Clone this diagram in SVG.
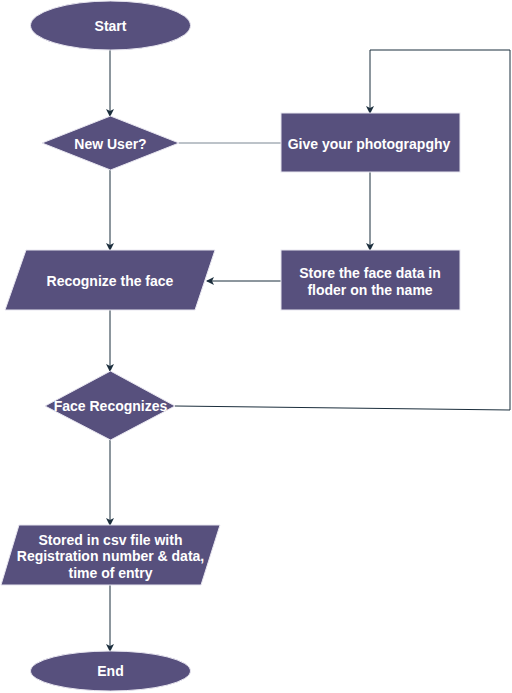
<svg xmlns="http://www.w3.org/2000/svg" width="512" height="693" viewBox="0 0 512 693">
<defs>
<marker id="ah" markerWidth="8" markerHeight="8" refX="7" refY="4" orient="auto" markerUnits="userSpaceOnUse">
<path d="M0,0 L8,4 L0,8 L2,4 Z" fill="#1b2e3c"/>
</marker>
<style>
.n{fill:#57507d;stroke:#e8e6f0;stroke-width:1}
.t{font-family:"Liberation Sans",Arial,sans-serif;font-weight:bold;font-size:14px;fill:#ffffff;text-anchor:middle;dominant-baseline:central}
.e{fill:none;stroke:#1b2e3c;stroke-width:1}
</style>
</defs>
<rect width="512" height="693" fill="#ffffff"/>
<g id="connectors">
<line class="e" x1="110" y1="50" x2="110" y2="116" marker-end="url(#ah)"/>
<line x1="179" y1="143" x2="281" y2="143" stroke="#7a8793" stroke-width="1"/>
<line class="e" x1="370" y1="172" x2="370" y2="250" marker-end="url(#ah)"/>
<line class="e" x1="281" y1="281" x2="207" y2="281" marker-end="url(#ah)"/>
<line class="e" x1="110" y1="169" x2="110" y2="250" marker-end="url(#ah)"/>
<line class="e" x1="110" y1="310" x2="110" y2="371" marker-end="url(#ah)"/>
<polyline class="e" points="175,406 510,410 510,50 370,50 370,113" marker-end="url(#ah)"/>
<line class="e" x1="110" y1="440" x2="110" y2="525" marker-end="url(#ah)"/>
<line class="e" x1="110" y1="585" x2="110" y2="651" marker-end="url(#ah)"/>
</g>
<g id="start">
<ellipse class="n" cx="110.5" cy="25.5" rx="80" ry="24.5"/>
<text class="t" x="110.5" y="26">Start</text>
</g>
<g id="new-user">
<polygon class="n" points="110.5,116 179,143 110.5,170 42,143"/>
<text class="t" x="110.5" y="144">New User?</text>
</g>
<g id="give-photo">
<rect class="n" x="281" y="113" width="179" height="59"/>
<text class="t" x="369" y="144">Give your photograpghy</text>
</g>
<g id="store-face">
<rect class="n" x="281" y="250" width="179" height="60"/>
<text class="t" x="370" y="273">Store the face data in</text>
<text class="t" x="370" y="290">floder on the name</text>
</g>
<g id="recognize">
<polygon class="n" points="26,250 215,250 195,310 5,310"/>
<text class="t" x="110" y="281">Recognize the face</text>
</g>
<g id="face-recognizes">
<polygon class="n" points="110.5,371 175,406 110.5,440 45,406"/>
<text class="t" x="110.5" y="406">Face Recognizes</text>
</g>
<g id="stored-csv">
<polygon class="n" points="19,525 220,525 201,585 1,585"/>
<text class="t" x="110.5" y="540">Stored in csv file with</text>
<text class="t" x="110.5" y="556">Registration number &amp; data,</text>
<text class="t" x="110.5" y="573">time of entry</text>
</g>
<g id="end">
<ellipse class="n" cx="110.5" cy="671" rx="80" ry="20"/>
<text class="t" x="110.5" y="671">End</text>
</g>
</svg>
